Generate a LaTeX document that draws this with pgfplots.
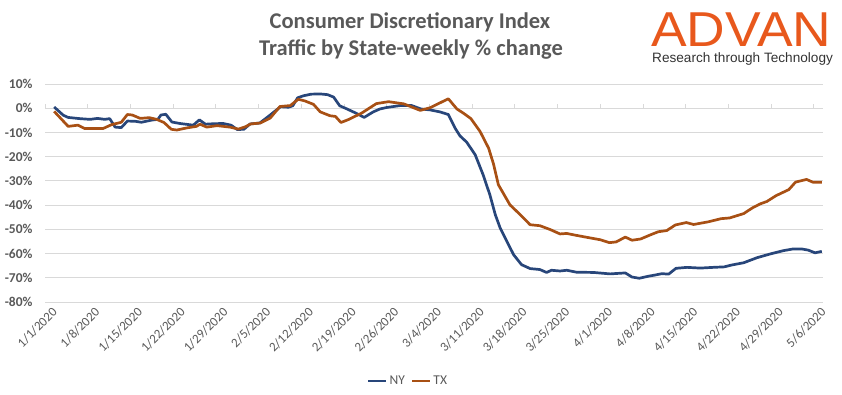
\documentclass[border=0pt]{standalone}
\usepackage{pgfplots}
\pgfplotsset{compat=1.18}
\usepackage{fontspec}
\setmainfont{Carlito}
\newfontfamily\logofont{Liberation Sans}
\definecolor{nyblue}{RGB}{40,70,122}
\definecolor{txorange}{RGB}{168,80,20}
\definecolor{gridgray}{RGB}{217,217,217}
\definecolor{textgray}{RGB}{89,89,89}
\definecolor{advanorange}{RGB}{232,88,28}
\begin{document}
\begin{tikzpicture}
\useasboundingbox (0pt,0pt) rectangle (842pt,395pt);
\node[anchor=base, font=\fontsize{22.5}{26}\selectfont\bfseries, text=textgray, inner sep=0] at (410pt,366pt) {Consumer Discretionary Index};
\node[anchor=base, font=\fontsize{22.5}{26}\selectfont\bfseries, text=textgray, inner sep=0] at (411pt,339pt) {Traffic by State-weekly \% change};
\node[anchor=base west, font=\logofont\fontsize{49}{49}\selectfont, text=advanorange, inner sep=0, xscale=1.09] at (651pt,348pt) {ADVAN};
\node[anchor=base west, font=\logofont\fontsize{13.6}{15}\selectfont, text=black!80, inner sep=0] at (652pt,332pt) {Research through Technology};

\begin{axis}[at={(45pt,93pt)}, anchor=south west, scale only axis, width=778pt, height=218pt,
  xmin=-1.3, xmax=126.2, ymin=-80, ymax=10,
  axis x line=middle, axis y line=none,
  axis line style={draw=gridgray, line width=0.8pt, -},
  xtick={-1.3,5.7,12.7,19.7,26.7,33.7,40.7,47.7,54.7,61.7,68.7,75.7,82.7,89.7,96.7,103.7,110.7,117.7,124.7},
  xticklabels={}, xtick align=inside, major tick length=4pt,
  tick style={draw=gridgray, line width=0.8pt}, ytick=\empty]
\end{axis}

\begin{axis}[at={(45pt,93pt)}, anchor=south west, scale only axis, width=778pt, height=218pt,
  xmin=-1.3, xmax=126.2, ymin=-80, ymax=10,
  axis line style={draw=none}, tick style={draw=none},
  ymajorgrids, grid style={draw=gridgray, line width=0.8pt},
  ytick={-80,-70,-60,-50,-40,-30,-20,-10,0,10},
  yticklabels={-80\%,-70\%,-60\%,-50\%,-40\%,-30\%,-20\%,-10\%,0\%,10\%},
  yticklabel style={font=\fontsize{13.5}{16}\selectfont\bfseries, text=textgray, xshift=-9pt},
  xtick={0,7,...,126},
  xticklabels={1/1/2020,1/8/2020,1/15/2020,1/22/2020,1/29/2020,2/5/2020,2/12/2020,2/19/2020,2/26/2020,3/4/2020,3/11/2020,3/18/2020,3/25/2020,4/1/2020,4/8/2020,4/15/2020,4/22/2020,4/29/2020,5/6/2020},
  xticklabel style={font=\fontsize{13}{15}\selectfont, text=textgray, rotate=45, anchor=east, yshift=-7pt, xshift=-1pt},
  legend columns=2,
  legend style={at={(0.4666,-0.362)}, anchor=center, draw=none, fill=none, font=\fontsize{13.5}{16}\selectfont, text=textgray,
    /tikz/every even column/.append style={column sep=4pt}},
  legend image code/.code={\draw[#1, line width=2.6pt] (0pt,0pt) -- (18pt,0pt);},
  every axis plot/.append style={line width=2.7pt, line join=round}
]
\addplot[nyblue] coordinates {
(0.2,0.5) (1.7,-2.9) (2.5,-3.8) (4.4,-4.3) (6.1,-4.6) (7.3,-4.2) (8.5,-4.6) (9.3,-4.3)
(10.2,-7.8) (11.2,-8.0) (12.2,-5.3) (13.5,-5.4) (14.5,-5.8) (16.2,-4.9) (17.2,-4.6)
(17.7,-2.8) (18.5,-2.5) (19.5,-5.7) (20.8,-6.3) (23.0,-7.0) (24.0,-4.8) (25.0,-6.6)
(26.3,-6.4) (27.9,-6.3) (29.2,-7.0) (30.2,-8.8) (31.3,-8.7) (32.3,-6.5) (33.9,-6.1)
(35.3,-3.4) (37.3,0.6) (38.6,0.4) (39.3,1.0) (40.1,4.3) (41.0,5.1) (42.3,5.8) (43.8,5.9)
(45.0,5.6) (46.0,4.6) (47.0,1.0) (48.1,-0.2) (49.8,-2.2) (51.0,-3.8) (52.5,-1.5)
(53.6,-0.3) (54.7,0.3) (56.9,1.1) (58.8,1.1) (60.3,-0.3) (61.8,-0.7) (63.4,-1.5)
(64.8,-2.6) (65.9,-8.2) (66.7,-11.4) (67.8,-14.0) (69.2,-19.2) (70.5,-27.5) (71.6,-35.7)
(72.5,-44.0) (73.3,-49.5) (74.4,-55.0) (75.5,-60.5) (76.8,-64.6) (78.2,-66.2) (79.8,-66.6)
(80.9,-67.8) (81.7,-66.9) (83.1,-67.2) (84.2,-66.9) (85.8,-67.7) (88.6,-67.8) (91.3,-68.4)
(93.8,-68.0) (94.9,-69.7) (96.1,-70.2) (97.5,-69.4) (98.6,-68.9) (99.8,-68.3) (100.9,-68.5)
(102.1,-66.1) (103.9,-65.7) (106.1,-66.0) (108.2,-65.7) (110.0,-65.5) (111.3,-64.7)
(113.2,-63.8) (115.4,-61.7) (117.5,-60.2) (119.7,-58.8) (121.3,-58.1) (122.7,-58.1)
(123.8,-58.6) (124.9,-59.7) (126.0,-59.1)
};
\addlegendentry{NY}
\addplot[txorange] coordinates {
(0.2,-1.3) (2.5,-7.5) (4.1,-7.0) (5.2,-8.4) (8.2,-8.4) (9.6,-6.8) (11.2,-5.8) (12.2,-2.6)
(13.0,-2.8) (14.3,-4.2) (15.8,-3.9) (17.0,-4.6) (18.2,-5.9) (19.4,-8.7) (20.3,-9.0)
(22.0,-8.1) (23.5,-7.5) (24.1,-6.6) (25.2,-7.8) (26.9,-7.2) (29.0,-7.8) (30.4,-8.6)
(31.5,-7.7) (32.4,-6.5) (34.0,-6.1) (35.6,-4.1) (37.2,0.7) (38.9,1.1) (40.2,3.7)
(41.3,3.0) (42.7,1.6) (43.8,-1.5) (45.4,-3.1) (46.3,-3.4) (47.2,-5.9) (48.5,-4.6)
(50.6,-2.0) (53.0,1.9) (55.0,2.7) (57.5,1.8) (60.2,-0.9) (61.8,0.2) (64.8,3.9)
(66.2,-0.3) (67.3,-2.1) (68.5,-4.3) (70.0,-9.6) (71.4,-16.5) (72.2,-23.0) (73.0,-31.6)
(74.9,-39.9) (76.6,-44.0) (78.2,-48.1) (79.8,-48.5) (81.5,-50.1) (83.1,-51.9) (84.2,-51.7)
(85.8,-52.5) (87.5,-53.3) (89.7,-54.3) (91.2,-55.5) (92.3,-55.2) (93.8,-53.2) (94.9,-54.5)
(96.3,-54.0) (97.8,-52.4) (99.2,-51.0) (100.6,-50.5) (102.0,-48.2) (103.8,-47.2)
(105.0,-48.0) (107.4,-46.9) (109.5,-45.6) (110.9,-45.3) (113.2,-43.5) (114.6,-41.2)
(115.9,-39.5) (117.0,-38.5) (118.5,-36.1) (120.6,-33.6) (121.7,-30.5) (123.5,-29.4)
(124.6,-30.6) (126.0,-30.6)
};
\addlegendentry{TX}
\end{axis}
\end{tikzpicture}
\end{document}
